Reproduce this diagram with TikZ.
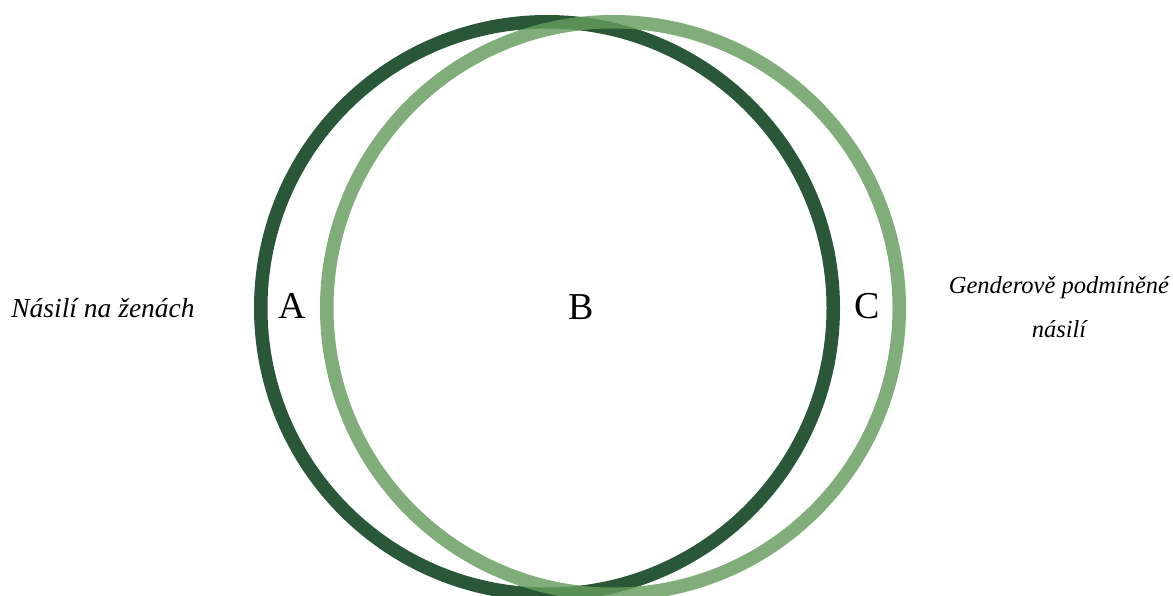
\documentclass[tikz,border=0pt]{standalone}
\usepackage{fontspec}
\setmainfont{Liberation Serif}
\definecolor{darkg}{RGB}{41,87,56}
\definecolor{lightg}{RGB}{100,155,92}
\tikzset{
  ring/.style={line width=13.5pt},
  letter/.style={font=\fontsize{38}{44}\selectfont, inner sep=0pt},
  sideL/.style={font=\fontsize{27.5}{38}\selectfont\itshape, inner sep=0pt, align=center},
  sideR/.style={font=\fontsize{24.5}{44}\selectfont\itshape, inner sep=0pt, align=center}
}
\begin{document}
\begin{tikzpicture}[x=1pt,y=-1pt]
\useasboundingbox (0,0) rectangle (1173,596);
\begin{scope}
\clip (0,0) rectangle (1173,596);
\draw[ring, darkg] (547,308) circle (286.25);
\draw[ring, lightg, draw opacity=0.82] (613,308) circle (286.25);
\end{scope}
\node[letter] (A) at (292,306) {A};
\node[letter] (B) at (581,307) {B};
\node[letter] (C) at (867,306) {C};
\node[sideL] (L) at (103,308) {Násilí na ženách};
\node[sideR] (R) at (1059,307) {Genderově podmíněné\\násilí};
\end{tikzpicture}
\end{document}
